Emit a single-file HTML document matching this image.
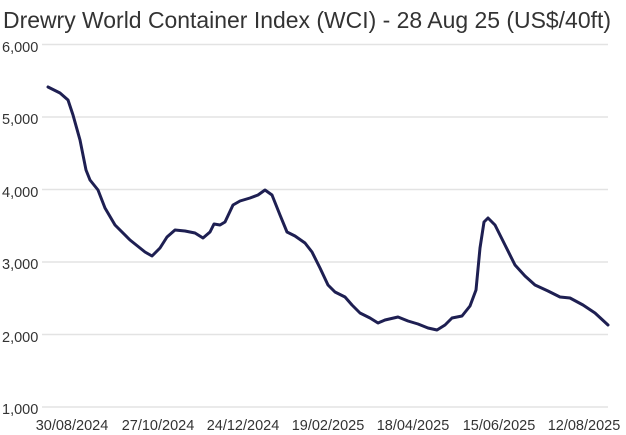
<!DOCTYPE html>
<html><head><style>
body{margin:0;background:#fff;}
svg{display:block;font-family:"Liberation Sans",sans-serif;}
</style></head><body>
<svg width="626" height="435" viewBox="0 0 626 435">
<text x="3" y="28" font-size="23" fill="#333" textLength="608" lengthAdjust="spacingAndGlyphs">Drewry World Container Index (WCI) - 28 Aug 25 (US$/40ft)</text>
<g stroke="#e3e3e3" stroke-width="1.5">
<line x1="42" x2="608" y1="44.5" y2="44.5"/>
<line x1="42" x2="608" y1="117" y2="117"/>
<line x1="42" x2="608" y1="189.5" y2="189.5"/>
<line x1="42" x2="608" y1="262" y2="262"/>
<line x1="42" x2="608" y1="334.5" y2="334.5"/>
<line x1="42" x2="608" y1="407" y2="407"/>
</g>
<g font-size="14.5" fill="#333">
<text x="2" y="52">6,000</text>
<text x="2" y="124">5,000</text>
<text x="2" y="197">4,000</text>
<text x="2" y="269">3,000</text>
<text x="2" y="342">2,000</text>
<text x="2" y="414">1,000</text>
</g>
<g font-size="14.5" fill="#333" text-anchor="middle">
<text x="72" y="430">30/08/2024</text>
<text x="158" y="430">27/10/2024</text>
<text x="243" y="430">24/12/2024</text>
<text x="328" y="430">19/02/2025</text>
<text x="413" y="430">18/04/2025</text>
<text x="499" y="430">15/06/2025</text>
<text x="584" y="430">12/08/2025</text>
</g>
<polyline fill="none" stroke="#1e1f52" stroke-width="3" stroke-linejoin="round" stroke-linecap="round"
points="48,87 60,93 68,100 73,115 80,140 86,170 90,180 98,190 105,208 115,225 130,240 145,252 152,256 160,248 167,237 175,230 185,231 195,233 203,238 210,232 214,224 220,225 225,222 233,205 240,201 250,198 258,195 265,190 272,195 280,215 287,232 295,236 305,243 312,252 320,268 328,285 335,292 345,297 352,305 360,313 370,318 378,323 385,320 398,317 408,321 418,324 428,328 437,330 445,325 452,318 462,316 470,306 476,290 480,248 484,222 488,218 495,225 505,245 515,265 525,276 535,285 548,291 560,297 570,298 583,305 595,313 608,325"/>
</svg>
</body></html>
